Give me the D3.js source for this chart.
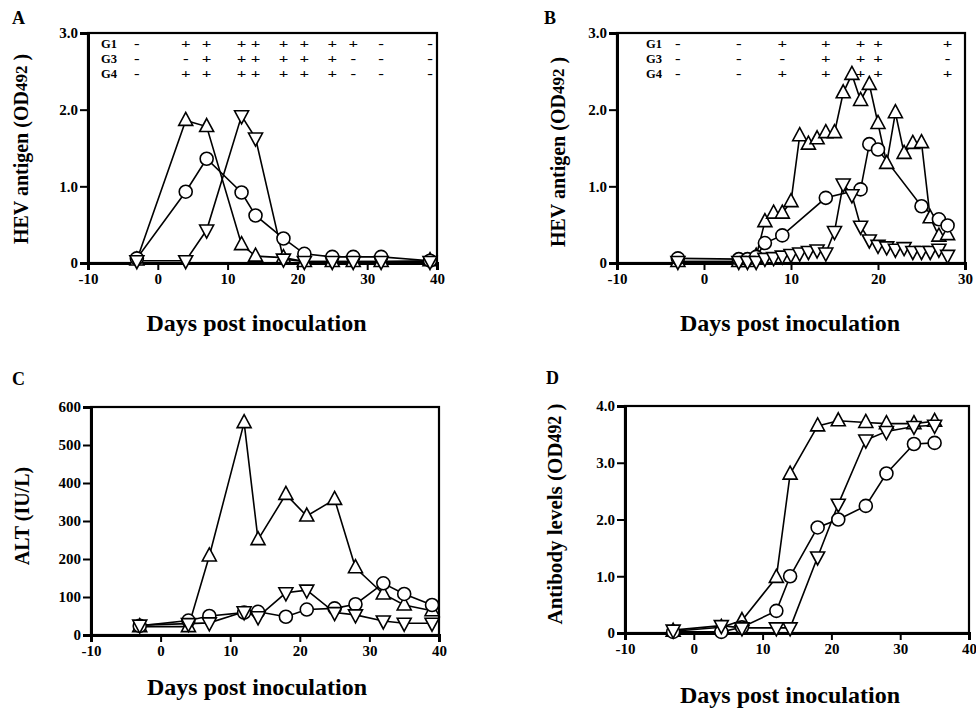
<!DOCTYPE html>
<html><head><meta charset="utf-8">
<script src="https://cdn.jsdelivr.net/npm/d3@7"></script>
<style>
html,body{margin:0;padding:0;background:#fff;}
svg text{font-family:"Liberation Serif","Times New Roman",serif;font-weight:bold;fill:#000;}
</style></head>
<body>
<svg id="chart" width="976" height="709"></svg>
<script>
// ---------- Panel A: HEV antigen (serum) ----------
const aDays = [-3, 4, 7, 12, 14, 18, 21, 25, 28, 32, 39];
const aUp     = [0.04, 1.86, 1.78, 0.24, 0.09, 0.07, 0.02, 0.02, 0.02, 0.02, 0.03];
const aCircle = [0.06, 0.93, 1.36, 0.92, 0.62, 0.32, 0.12, 0.08, 0.08, 0.08, 0.03];
const aDown   = [0.03, 0.03, 0.43, 1.92, 1.63, 0.05, 0.02, 0.02, 0.02, 0.02, 0.02];
const aG1 = ["-", "+", "+", "+", "+", "+", "+", "+", "+", "-", "-"];
const aG3 = ["-", "-", "+", "+", "+", "+", "+", "+", "-", "-", "-"];
const aG4 = ["-", "+", "+", "+", "+", "+", "+", "+", "-", "-", "-"];

// ---------- Panel B: HEV antigen ----------
const bUpDays = [-3, 4, 5, 6, 7, 8, 9, 10, 11, 12, 13, 14, 15, 16, 17, 18, 19, 20, 21, 22, 23, 24, 25, 26, 27, 28];
const bUp     = [0.02, 0.02, 0.02, 0.09, 0.54, 0.65, 0.65, 0.80, 1.66, 1.55, 1.62, 1.70, 1.70, 2.22, 2.46, 2.12, 2.33, 1.82, 1.30, 1.96, 1.43, 1.56, 1.57, 0.59, 0.35, 0.37];
const bCircleDays = [-3, 4, 5, 6, 7, 9, 14, 18, 19, 20, 25, 27, 28];
const bCircle     = [0.06, 0.05, 0.05, 0.08, 0.26, 0.36, 0.85, 0.96, 1.55, 1.48, 0.74, 0.57, 0.49];
const bDownDays = [-3, 4, 5, 6, 7, 8, 9, 10, 11, 12, 13, 14, 15, 16, 17, 18, 19, 20, 21, 22, 23, 24, 25, 26, 27, 28];
const bDown     = [0.02, 0.02, 0.02, 0.02, 0.06, 0.07, 0.09, 0.11, 0.13, 0.15, 0.17, 0.13, 0.41, 1.03, 0.89, 0.48, 0.30, 0.23, 0.21, 0.18, 0.20, 0.15, 0.15, 0.15, 0.18, 0.10];
const bTableDays = [-3, 4, 9, 14, 18, 20, 28];
const bG1 = ["-", "-", "+", "+", "+", "+", "+"];
const bG3 = ["-", "-", "-", "+", "+", "+", "-"];
const bG4 = ["-", "-", "+", "+", "+", "+", "+"];

// ---------- Panel C: ALT ----------
const cDays = [-3, 4, 7, 12, 14, 18, 21, 25, 28, 32, 35, 39];
const cUp     = [22, 22, 208, 559, 251, 370, 313, 357, 177, 108, 79, 64];
const cCircle = [24, 38, 50, 59, 61, 48, 67, 70, 81, 136, 108, 79];
const cDown   = [26, 30, 32, 61, 48, 111, 118, 59, 53, 37, 31, 31];

// ---------- Panel D: Antibody ----------
const dDays = [-3, 4, 7, 12, 14, 18, 21, 25, 28, 32, 35];
const dUp     = [0.03, 0.10, 0.22, 0.98, 2.80, 3.65, 3.74, 3.71, 3.69, 3.69, 3.73];
const dCircle = [0.02, 0.02, 0.10, 0.39, 1.00, 1.86, 2.00, 2.24, 2.81, 3.33, 3.35];
const dDown   = [0.05, 0.13, 0.09, 0.09, 0.09, 1.34, 2.27, 3.40, 3.55, 3.64, 3.66];

// ---------- Tick labels ----------
const xTicks40 = [-10, 0, 10, 20, 30, 40];
const xTicks30 = [-10, 0, 10, 20, 30];
const odTicks3 = [0, 1, 2, 3];
const odTicks4 = [0, 1, 2, 3, 4];
const altTicks = [0, 100, 200, 300, 400, 500, 600];
const xTitle = "Days post inoculation";

const svg = d3.select("#chart");
svg.append("rect").attr("width", 976).attr("height", 709).attr("fill", "#fff");

const triUp = "M0,-8L7,5L-7,5Z";
const triDown = "M0,8L7,-5L-7,-5Z";
const fmtOD = d => d === 0 ? "0" : d3.format(".1f")(d);

function panel(o) {
  const g = svg.append("g");
  const x = d3.scaleLinear().domain(o.xDomain).range([o.left, o.right]);
  const y = d3.scaleLinear().domain(o.yDomain).range([o.bottom, o.top]);

  g.append("rect").attr("x", o.left).attr("y", o.top)
    .attr("width", o.right - o.left).attr("height", o.bottom - o.top)
    .attr("fill", "none").attr("stroke", "#000").attr("stroke-width", 2.2);

  const ya = g.append("g").attr("transform", `translate(${o.left},0)`)
    .call(d3.axisLeft(y).tickValues(o.yTicks).tickFormat(o.yFmt).tickSize(8).tickPadding(2));
  const xa = g.append("g").attr("transform", `translate(0,${o.bottom})`)
    .call(d3.axisBottom(x).tickValues(o.xTicks).tickFormat(d => d < 0 ? "-" + Math.abs(d) : d).tickSize(7).tickPadding(3));
  [ya, xa].forEach(a => {
    a.attr("font-family", null).attr("font-size", null);
    a.select(".domain").attr("stroke", "#000").attr("stroke-width", 3);
    a.selectAll(".tick line").attr("stroke", "#000").attr("stroke-width", 2);
    a.selectAll("text").attr("font-size", 15).attr("fill", "#000");
  });

  svg.append("text").attr("x", o.letterX).attr("y", o.letterY).attr("font-size", 18).text(o.letter);

  const yt = svg.append("text")
    .attr("transform", `translate(${o.yTitleX},${o.yTitleY}) rotate(-90)`)
    .attr("text-anchor", "middle").attr("dominant-baseline", "central")
    .attr("font-size", o.yTitleSize);
  o.yTitle.forEach(p => {
    const t = yt.append("tspan").text(p.t);
    if (p.small) t.attr("font-size", o.yTitleSize * 0.85);
  });

  svg.append("text").attr("x", (o.left + o.right) / 2 + o.xTitleDx).attr("y", o.xTitleY)
    .attr("text-anchor", "middle").attr("font-size", 24).text(xTitle);

  const line = d3.line().x(d => x(d[0])).y(d => y(d[1]));
  o.series.forEach(s => {
    const pts = s.days.map((d, i) => [d, s.vals[i]]);
    g.append("path").datum(pts).attr("d", line)
      .attr("fill", "none").attr("stroke", "#000").attr("stroke-width", 1.6);
  });
  o.series.forEach(s => {
    const pts = s.days.map((d, i) => [d, s.vals[i]]);
    const m = g.append("g");
    pts.forEach(p => {
      if (s.shape === "circle") {
        m.append("circle").attr("cx", x(p[0])).attr("cy", y(p[1])).attr("r", 6.5)
          .attr("fill", "#fff").attr("stroke", "#000").attr("stroke-width", 1.6);
      } else {
        m.append("path").attr("d", s.shape === "up" ? triUp : triDown)
          .attr("transform", `translate(${x(p[0])},${y(p[1])})`)
          .attr("fill", "#fff").attr("stroke", "#000").attr("stroke-width", 1.6);
      }
    });
  });

  if (o.table) {
    const tb = o.table;
    const rowY = [44, 59, 74];
    ["G1", "G3", "G4"].forEach((lab, r) => {
      svg.append("text").attr("x", tb.labelX).attr("y", rowY[r] + 4)
        .attr("font-size", 12.5).text(lab);
      tb.rows[r].forEach((s, i) => {
        svg.append("text")
          .attr("transform", `translate(${x(tb.days[i])},${rowY[r] + 4}) scale(1.35,1)`)
          .attr("text-anchor", "middle").attr("font-size", 12.5)
          .text(s);
      });
    });
  }
}

panel({
  letter: "A", letterX: 12, letterY: 24,
  left: 88, right: 437, top: 33, bottom: 263,
  xDomain: [-10, 40], yDomain: [0, 3], xTicks: xTicks40, yTicks: odTicks3, yFmt: fmtOD,
  yTitle: [{t: "HEV antigen (OD"}, {t: "492", small: true}, {t: " )"}], yTitleX: 21, yTitleY: 149, yTitleSize: 20,
  xTitleDx: -6, xTitleY: 331,
  series: [
    {days: aDays, vals: aUp, shape: "up"},
    {days: aDays, vals: aCircle, shape: "circle"},
    {days: aDays, vals: aDown, shape: "down"}
  ],
  table: {labelX: 101, days: aDays, rows: [aG1, aG3, aG4]}
});

panel({
  letter: "B", letterX: 544, letterY: 24,
  left: 617, right: 965, top: 33, bottom: 263,
  xDomain: [-10, 30], yDomain: [0, 3], xTicks: xTicks30, yTicks: odTicks3, yFmt: fmtOD,
  yTitle: [{t: "HEV antigen (OD"}, {t: "492", small: true}, {t: " )"}], yTitleX: 558, yTitleY: 152, yTitleSize: 20,
  xTitleDx: -1, xTitleY: 331,
  series: [
    {days: bUpDays, vals: bUp, shape: "up"},
    {days: bCircleDays, vals: bCircle, shape: "circle"},
    {days: bDownDays, vals: bDown, shape: "down"}
  ],
  table: {labelX: 646, days: bTableDays, rows: [bG1, bG3, bG4]}
});

panel({
  letter: "C", letterX: 12, letterY: 385,
  left: 91, right: 439, top: 407, bottom: 635,
  xDomain: [-10, 40], yDomain: [0, 600], xTicks: xTicks40, yTicks: altTicks, yFmt: d => d,
  yTitle: [{t: "ALT (IU/L)"}], yTitleX: 22, yTitleY: 516, yTitleSize: 20,
  xTitleDx: -8, xTitleY: 695,
  series: [
    {days: cDays, vals: cUp, shape: "up"},
    {days: cDays, vals: cCircle, shape: "circle"},
    {days: cDays, vals: cDown, shape: "down"}
  ]
});

panel({
  letter: "D", letterX: 546, letterY: 384,
  left: 625, right: 969, top: 406, bottom: 633,
  xDomain: [-10, 40], yDomain: [0, 4], xTicks: xTicks40, yTicks: odTicks4, yFmt: fmtOD,
  yTitle: [{t: "Antibody levels (OD"}, {t: "492", small: true}, {t: " )"}], yTitleX: 555, yTitleY: 514, yTitleSize: 21,
  xTitleDx: -7, xTitleY: 703,
  series: [
    {days: dDays, vals: dUp, shape: "up"},
    {days: dDays, vals: dCircle, shape: "circle"},
    {days: dDays, vals: dDown, shape: "down"}
  ]
});
</script>
</body></html>
